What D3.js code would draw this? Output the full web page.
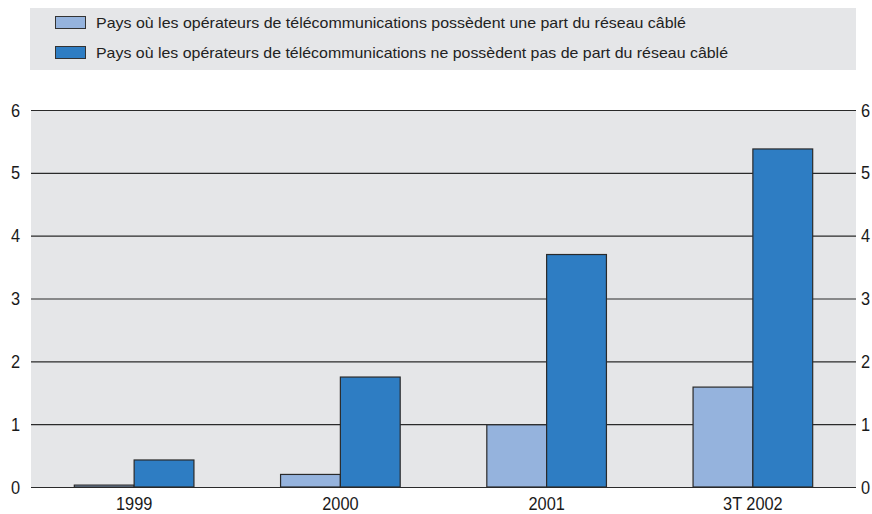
<!DOCTYPE html>
<html>
<head>
<meta charset="utf-8">
<script src="https://cdn.jsdelivr.net/npm/d3@7"></script>
<style>
  body { margin: 0; background: #fff; }
  svg { display: block; }
</style>
</head>
<body>
<script>
// data
const categories = ["1999", "2000", "2001", "3T 2002"];
const seriesNames = [
  "Pays où les opérateurs de télécommunications possèdent une part du réseau câblé",
  "Pays où les opérateurs de télécommunications ne possèdent pas de part du réseau câblé"
];
const withShare = [0.03, 0.2, 0.99, 1.59];
const withoutShare = [0.43, 1.75, 3.7, 5.38];
const yTicks = [0, 1, 2, 3, 4, 5, 6];

const width = 872, height = 514;
const margin = { top: 110, left: 31, right: 16, bottom: 27 };
const colors = ["#95b3dd", "#2e7dc3"];
const axisFont = "'Liberation Sans', Arial, sans-serif";
const legendWidths = [590, 632];

const svg = d3.select("body").append("svg")
  .attr("width", width)
  .attr("height", height);

// squeeze axis labels a bit, the original uses a condensed face
function narrow(sel) {
  sel.attr("font-family", axisFont).attr("font-size", 19).attr("fill", "#1a1a1a")
    .each(function() {
      const w = this.getComputedTextLength();
      d3.select(this).attr("textLength", w * 0.86).attr("lengthAdjust", "spacingAndGlyphs");
    });
}

// legend box
svg.append("rect")
  .attr("x", 30).attr("y", 8)
  .attr("width", 826).attr("height", 62)
  .attr("fill", "#e5e6e8");

seriesNames.forEach(function(name, i) {
  const ly = 16 + i * 30;
  svg.append("rect")
    .attr("x", 55.5).attr("y", ly + 0.5)
    .attr("width", 30).attr("height", 12)
    .attr("fill", colors[i])
    .attr("stroke", "#333").attr("stroke-width", 1);
  svg.append("text")
    .attr("x", 96).attr("y", ly + 11.5)
    .attr("font-family", "'Liberation Sans', Arial, sans-serif")
    .attr("font-size", 14.5)
    .attr("fill", "#222")
    .attr("textLength", legendWidths[i])
    .attr("lengthAdjust", "spacingAndGlyphs")
    .text(name);
});

const x = d3.scaleBand()
  .domain(categories)
  .range([margin.left, width - margin.right])
  .paddingInner(0.42)
  .paddingOuter(0.21);

const xSub = d3.scaleBand()
  .domain([0, 1])
  .range([0, x.bandwidth()]);

const y = d3.scaleLinear()
  .domain([0, 6])
  .range([height - margin.bottom, margin.top]);

// plot background
svg.append("rect")
  .attr("x", margin.left).attr("y", y(6))
  .attr("width", width - margin.right - margin.left)
  .attr("height", y(0) - y(6))
  .attr("fill", "#e5e6e8");

// gridlines
svg.append("g")
  .attr("transform", `translate(${margin.left},0)`)
  .call(d3.axisRight(y).tickValues(yTicks).tickSize(width - margin.right - margin.left).tickFormat(""))
  .call(g => g.select(".domain").remove())
  .call(g => g.selectAll("line").attr("stroke", "#2a2a2a").attr("stroke-width", 1.2));

// left labels
svg.append("g")
  .attr("transform", `translate(${margin.left},0)`)
  .call(d3.axisLeft(y).tickValues(yTicks).tickSize(0).tickPadding(11).tickFormat(d3.format("d")))
  .call(g => g.select(".domain").remove())
  .call(g => narrow(g.selectAll("text")));

// right labels
svg.append("g")
  .attr("transform", `translate(${width - margin.right},0)`)
  .call(d3.axisRight(y).tickValues(yTicks).tickSize(0).tickPadding(5).tickFormat(d3.format("d")))
  .call(g => g.select(".domain").remove())
  .call(g => narrow(g.selectAll("text")));

// bars
const groups = svg.append("g").selectAll("g")
  .data(categories)
  .join("g")
  .attr("transform", d => `translate(${x(d)},0)`);

groups.selectAll("rect")
  .data((d, i) => [withShare[i], withoutShare[i]])
  .join("rect")
  .attr("x", (d, j) => xSub(j))
  .attr("y", d => y(d))
  .attr("width", xSub.bandwidth())
  .attr("height", d => y(0) - y(d))
  .attr("fill", (d, j) => colors[j])
  .attr("stroke", "#2a2a2a")
  .attr("stroke-width", 1.2);

// x labels
svg.append("g")
  .attr("transform", `translate(0,${y(0)})`)
  .call(d3.axisBottom(x).tickSize(0).tickPadding(10))
  .call(g => g.select(".domain").remove())
  .call(g => narrow(g.selectAll("text")));
</script>
</body>
</html>
